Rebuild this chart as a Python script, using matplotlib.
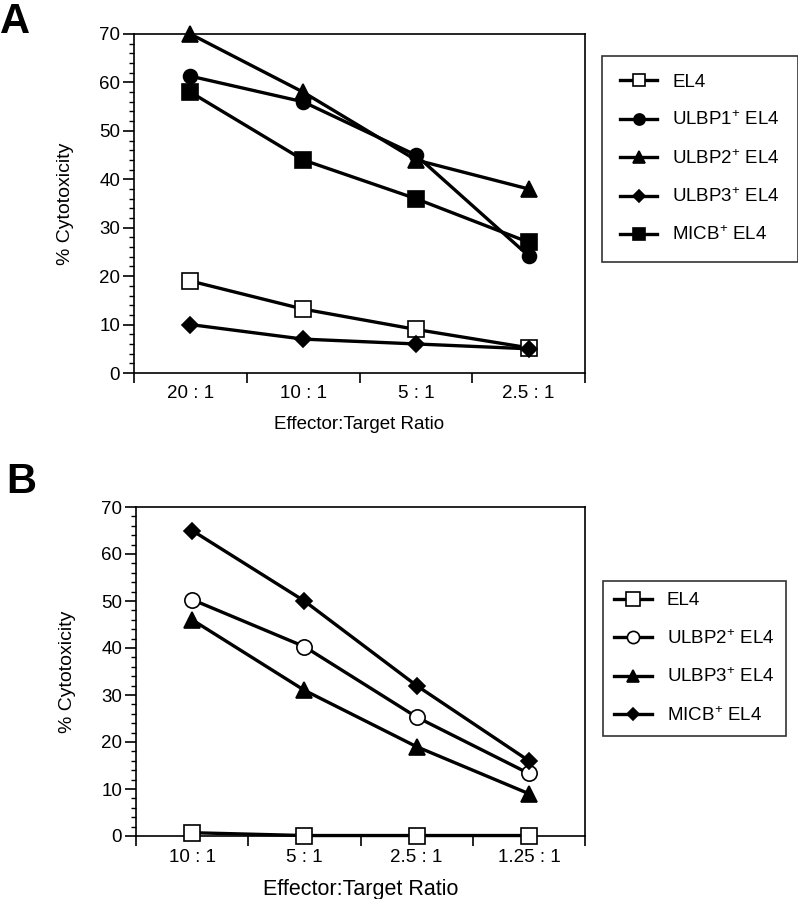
import numpy as np
import matplotlib
matplotlib.use("Agg")
import matplotlib.pyplot as plt
from matplotlib.ticker import MultipleLocator, FixedLocator

plt.rcParams['font.family'] = ['Liberation Sans', 'DejaVu Sans']
plt.rcParams['mathtext.fontset'] = 'custom'
plt.rcParams['mathtext.rm'] = 'Liberation Sans'
plt.rcParams['mathtext.it'] = 'Liberation Sans'

# panel A data
ratios_a = ["20 : 1", "10 : 1", "5 : 1", "2.5 : 1"]
el4_a = [19, 13.2, 9, 5.2]
ulbp1_a = [61.3, 56, 45, 24.2]
ulbp2_a = [70, 58, 44, 38]
ulbp3_a = [10, 7, 6, 5]
micb_a = [58, 44, 36, 27]

# panel B data
ratios_b = ["10 : 1", "5 : 1", "2.5 : 1", "1.25 : 1"]
el4_b = [0.7, 0.1, 0.1, 0.1]
ulbp2_b = [50.3, 40.3, 25.3, 13.3]
ulbp3_b = [46, 31, 19, 9]
micb_b = [65, 50, 32, 16]

W, H = 798, 899
fig = plt.figure(figsize=(W / 100, H / 100), dpi=100)


def ax_rect(x0, y0, x1, y1):
    return [x0 / W, 1 - y1 / H, (x1 - x0) / W, (y1 - y0) / H]


def plot_series(ax, y, marker, filled, label, ms=10):
    x = np.arange(len(y))
    ax.plot(x, y, color="black", lw=2.4, marker=marker, ms=ms,
            mfc="black" if filled else "white", mec="black", mew=1.2,
            label=label, clip_on=False, zorder=3)


def style_axes(ax, cats, xlabel, xlabel_size, xlabel_pad):
    ax.set_xlim(-0.5, len(cats) - 0.5)
    ax.set_ylim(0, 70)
    ax.yaxis.set_major_locator(MultipleLocator(10))
    ax.yaxis.set_minor_locator(MultipleLocator(2))
    ax.xaxis.set_major_locator(FixedLocator(np.arange(len(cats) + 1) - 0.5))
    ax.xaxis.set_minor_locator(FixedLocator(np.arange(len(cats))))
    ax.set_xticklabels([""] * (len(cats) + 1))
    ax.set_xticklabels(cats, minor=True)
    ax.tick_params(axis="x", which="major", direction="out", length=7, width=1.2)
    ax.tick_params(axis="x", which="minor", length=0, labelsize=13.5, pad=9)
    ax.tick_params(axis="y", which="major", direction="out", length=8, width=1.2,
                   labelsize=13.5, pad=2)
    ax.tick_params(axis="y", which="minor", direction="out", length=3.5, width=1)
    for s in ax.spines.values():
        s.set_linewidth(1.2)
    ax.set_ylabel("% Cytotoxicity", fontsize=14, labelpad=18)
    ax.set_xlabel(xlabel, fontsize=xlabel_size, labelpad=xlabel_pad)


# ---- panel A ----
axA = fig.add_axes(ax_rect(134, 34, 585, 373))
plot_series(axA, el4_a, "s", False, "EL4", ms=11)
plot_series(axA, ulbp1_a, "o", True, "ULBP1$^{+}$ EL4")
plot_series(axA, ulbp2_a, "^", True, "ULBP2$^{+}$ EL4", ms=11)
plot_series(axA, ulbp3_a, "D", True, "ULBP3$^{+}$ EL4", ms=8)
plot_series(axA, micb_a, "s", True, "MICB$^{+}$ EL4", ms=11)
style_axes(axA, ratios_a, "Effector:Target Ratio", 13.5, 10)

hA, lA = axA.get_legend_handles_labels()
legA = fig.legend(hA, lA, loc="upper left", bbox_to_anchor=(602 / W, 1 - 56 / H),
                  frameon=True, fancybox=False, edgecolor="black", fontsize=13.5,
                  handlelength=2.0, labelspacing=1.05, borderpad=0.95,
                  handletextpad=0.8, markerscale=0.8, borderaxespad=0)
legA.get_frame().set_linewidth(1.2)

# ---- panel B ----
axB = fig.add_axes(ax_rect(136, 507, 585, 836))
plot_series(axB, el4_b, "s", False, "EL4", ms=12)
plot_series(axB, ulbp2_b, "o", False, "ULBP2$^{+}$ EL4", ms=11)
plot_series(axB, ulbp3_b, "^", True, "ULBP3$^{+}$ EL4", ms=11)
plot_series(axB, micb_b, "D", True, "MICB$^{+}$ EL4", ms=8)
style_axes(axB, ratios_b, "Effector:Target Ratio", 15.5, 10)

hB, lB = axB.get_legend_handles_labels()
legB = fig.legend(hB, lB, loc="upper left", bbox_to_anchor=(603 / W, 1 - 581 / H),
                  frameon=True, fancybox=False, edgecolor="black", fontsize=13.5,
                  handlelength=2.0, labelspacing=1.05, borderpad=0.6,
                  handletextpad=0.8, markerscale=0.8, borderaxespad=0)
legB.get_frame().set_linewidth(1.2)

# panel letters
fig.text(0 / W, 1 - 2 / H, "A", fontsize=30, fontweight="bold", va="top", ha="left")
fig.text(6 / W, 1 - 462 / H, "B", fontsize=30, fontweight="bold", va="top", ha="left")

fig.savefig("out.png", dpi=100)
